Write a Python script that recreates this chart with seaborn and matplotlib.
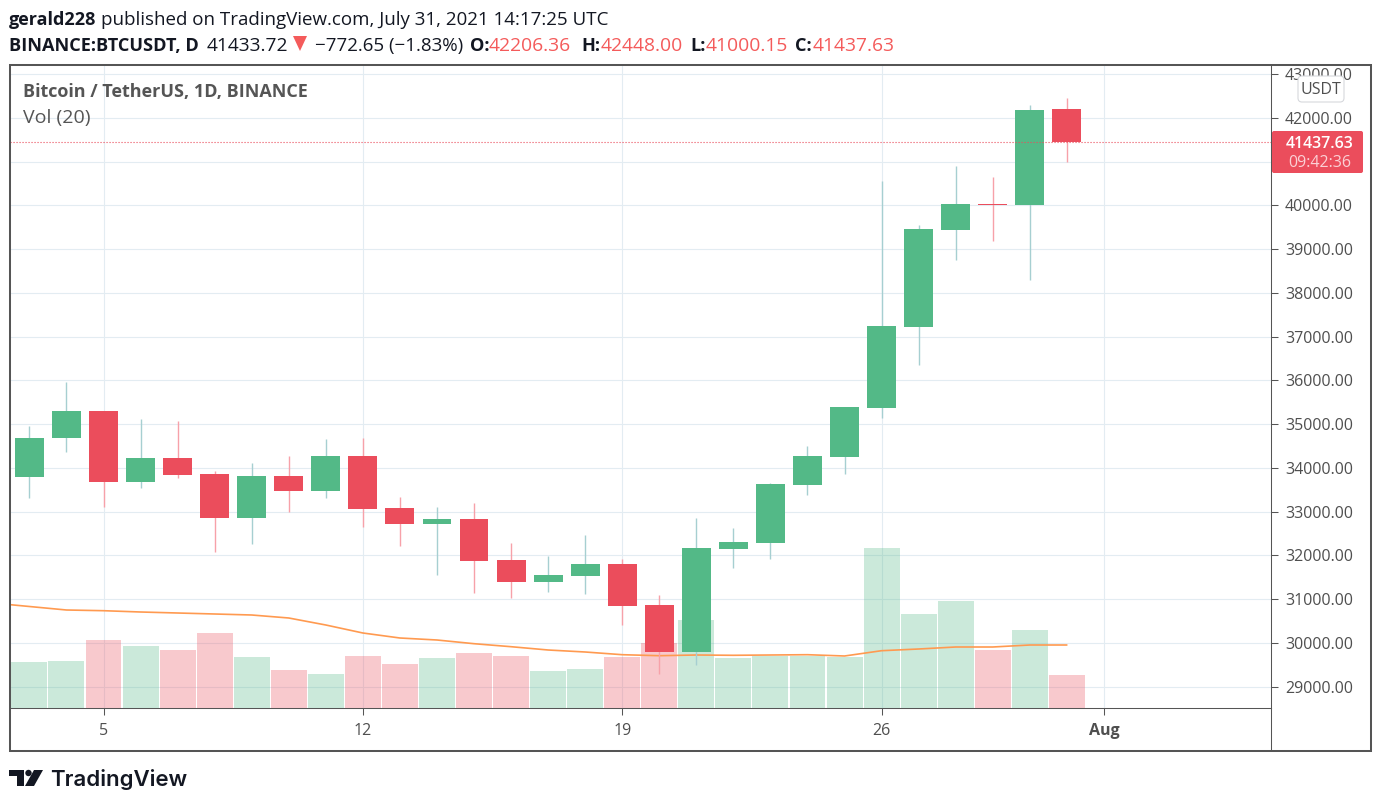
import pandas as pd
import matplotlib
matplotlib.use("Agg")
import matplotlib.pyplot as plt
import seaborn as sns
from matplotlib.lines import Line2D
from matplotlib.patches import FancyBboxPatch, Polygon, Circle, Rectangle
from matplotlib.transforms import IdentityTransform

# July 2021 daily candles
days = list(range(3, 32))
opens = [33780, 34690, 35300, 33684, 34232, 33867, 32864, 33821, 33479, 34277,
         33092, 32727, 32841, 31883, 31382, 31518, 31792, 30857, 29786, 32134,
         32271, 33616, 34254, 35372, 37218, 39430, 40025, 40000, 42206.36]
highs = [34950, 35960, 35300, 35121, 35075, 33935, 34118, 34277, 34665, 34688,
         33342, 33114, 33206, 32271, 31974, 32453, 31906, 31085, 32864, 32613,
         33660, 34500, 35400, 40547, 39544, 40890, 40638, 42303, 42448.00]
lows = [33304, 34352, 33114, 33532, 33776, 32066, 32248, 33000, 33304, 32658,
        32202, 31541, 31131, 31017, 31154, 31108, 30401, 29284, 29489, 31701,
        31906, 33388, 33867, 35144, 36352, 38745, 39180, 38290, 41000.15]
closes = [34690, 35300, 33684, 34232, 33844, 32864, 33821, 33479, 34277, 33069,
          32727, 32841, 31860, 31382, 31541, 31792, 30834, 29786, 32157, 32294,
          33639, 34277, 35394, 37241, 39453, 40023, 40000, 42189, 41437.63]
volumes = [43700, 44650, 64600, 58900, 55100, 71250, 48450, 36100, 32300, 49400,
           41800, 47500, 52250, 49400, 35150, 37050, 48450, 61750, 83600, 47500,
           49400, 49400, 48450, 152000, 89300, 101650, 55100, 74100, 31350]

# 20 day volume average, it starts left of the visible range
ma_days = list(range(2, 32))
ma_volumes = [99750, 96425, 93100, 92435, 91200, 90250, 89300, 88350, 85500, 78850,
              71250, 66500, 64600, 61085, 58235, 55100, 53200, 50635, 49685, 50350,
              50065, 50350, 50635, 49400, 54435, 56050, 57950, 57950, 59850, 59850]

price_ticks = list(range(29000, 43001, 1000))
date_ticks = [5, 12, 19, 26, 32]
date_labels = ["5", "12", "19", "26", "Aug"]

GREEN = "#53b987"
RED = "#eb4d5c"
GREEN_WICK = "#a6cfd1"
RED_WICK = "#f7a1a9"
GRID = "#e3ecf2"
DARK = "#131722"
GRAY = "#4f4f4f"
W, H = 1381, 806

sns.set_theme(style="white")
plt.rcParams["font.family"] = ["Open Sans", "DejaVu Sans"]

fig = plt.figure(figsize=(W / 100, H / 100), dpi=100, facecolor="white")
rect = [10 / W, 1 - 708 / H, 1261 / W, 643 / H]

ax = fig.add_axes(rect, zorder=1)
ax_vol = fig.add_axes(rect, zorder=2, sharex=ax)
ax_c = fig.add_axes(rect, zorder=3, sharex=ax, sharey=ax)

df = pd.DataFrame({"day": days, "open": opens, "high": highs, "low": lows,
                   "close": closes, "volume": volumes})
df["dir"] = ["up" if c >= o else "down" for o, c in zip(opens, closes)]
ma = pd.DataFrame({"day": ma_days, "ma": ma_volumes})

# volume pane
sns.barplot(data=df, x="day", y="volume", hue="dir", native_scale=True, dodge=False,
            palette={"up": GREEN, "down": RED}, alpha=0.3, width=0.97, saturation=1,
            linewidth=0, legend=False, ax=ax_vol)
sns.lineplot(data=ma, x="day", y="ma", color="#ff9a50", linewidth=1.2, ax=ax_vol)
ax_vol.set_ylim(0, 610850)
ax_vol.axis("off")

# candles
up = df[df["dir"] == "up"]
down = df[df["dir"] == "down"]
ax_c.vlines(up["day"], up["low"], up["high"], color=GREEN_WICK, linewidth=1.0, zorder=1)
ax_c.vlines(down["day"], down["low"], down["high"], color=RED_WICK, linewidth=1.0, zorder=1)
ax_c.bar(up["day"], up["close"] - up["open"], bottom=up["open"], width=0.78,
         color=GREEN, linewidth=0, zorder=2)
ax_c.bar(down["day"], down["open"] - down["close"], bottom=down["close"], width=0.78,
         color=RED, linewidth=0, zorder=2)
ax_c.axhline(closes[-1], color=RED, linewidth=0.8, linestyle=(0, (1, 1.7)), zorder=3)
ax_c.axis("off")

ax.set_xlim(2.476, 36.51)
ax.set_ylim(28510, 43207)
ax.yaxis.tick_right()
ax.set_yticks(price_ticks)
# 41000 sits behind the last price tag, so it gets no label
ax.set_yticklabels(["" if p == 41000 else f"{p}.00" for p in price_ticks])
ax.set_xticks(date_ticks)
ax.set_xticklabels(date_labels)
ax.get_xticklabels()[-1].set_fontweight("bold")
ax.grid(True, color=GRID, linewidth=0.8)
ax.set_axisbelow(True)
ax.tick_params(axis="y", right=True, length=5, width=0.75, color="#555555", pad=5,
               labelsize=11.5, labelcolor=GRAY)
ax.tick_params(axis="x", bottom=True, length=5, width=0.75, color="#555555", pad=6,
               labelsize=11.5, labelcolor=GRAY)
ax.set_xlabel("")
ax.set_ylabel("")
for side in ["left", "top"]:
    ax.spines[side].set_visible(False)
for side in ["right", "bottom"]:
    ax.spines[side].set_color("#555555")
    ax.spines[side].set_linewidth(0.75)


def label(x, y, s, **kw):
    # x, y in screenshot pixels
    kw.setdefault("va", "center")
    kw.setdefault("color", DARK)
    kw.setdefault("fontsize", 13.52)
    return fig.text(x, H - y, s, transform=IdentityTransform(), zorder=12, **kw)


def add_px(patch):
    patch.set_transform(IdentityTransform())
    patch.set_zorder(11)
    fig.add_artist(patch)


def poly_px(points):
    add_px(Polygon([(x, H - y) for x, y in points], closed=True, facecolor=DARK, edgecolor="none"))


# outer frame
fig.add_artist(Rectangle((10 / W, 1 - 751 / H), 1361 / W, 686 / H, transform=fig.transFigure,
                         fill=False, edgecolor="#555555", linewidth=1.45, zorder=10))
fig.add_artist(Line2D([1271 / W, 1271 / W], [1 - 751 / H, 1 - 708 / H], transform=fig.transFigure,
                      color="#555555", linewidth=0.75, zorder=10))

# header
label(9, 20, "gerald228", fontweight="bold", fontsize=13)
label(101, 20, "published on TradingView.com, July 31, 2021 14:17:25 UTC")
label(9, 46, "BINANCE:BTCUSDT, D", fontweight="bold", fontsize=13.1)
label(207, 46, "41433.72", fontsize=13.8)
add_px(Polygon([(293, H - 36), (307, H - 36), (300, H - 51)], closed=True,
               facecolor="#f45b5b", edgecolor="none"))
label(315, 46, "\u2212772.65 (\u22121.83%)")
header_ohlc = [(470, "O:", 489, "42206.36"), (581, "H:", 601, "42448.00"),
               (690, "L:", 706, "41000.15"), (795, "C:", 813, "41437.63")]
for x1, name, x2, val in header_ohlc:
    label(x1, 46, name, fontweight="bold", fontsize=13.1)
    label(x2, 46, val, color="#f45b5b", fontsize=13.9)

# chart legend
label(23, 92, "Bitcoin / TetherUS, 1D, BINANCE", fontweight="bold", color="#555555", fontsize=13)
label(23, 118, "Vol (20)", color="#555555", fontsize=14)

# currency button and last price tag
add_px(FancyBboxPatch((1298, H - 102), 46, 26, boxstyle="round,pad=0,rounding_size=4",
                      facecolor="white", edgecolor="#d6d8dc", linewidth=0.8))
label(1321, 90, "USDT", ha="center", color=GRAY, fontsize=11.5)
add_px(FancyBboxPatch((1272, H - 173), 91, 42, boxstyle="round,pad=0,rounding_size=2",
                      facecolor=RED, edgecolor="none"))
label(1320, 144, "41437.63", ha="center", color="white", fontsize=11.5, fontweight="semibold")
label(1320, 163, "09:42:36", ha="center", color="#fbd0d5", fontsize=11.5)

# logo
poly_px([(9, 770), (24, 770), (24, 786), (17, 786), (17, 776), (9, 776)])
add_px(Circle((28.5, H - 773), 3.2, facecolor=DARK, edgecolor="none"))
poly_px([(34, 770), (43, 770), (34, 786), (25, 786)])
label(50, 779, "TradingView", family="Inter", fontweight="semibold", fontsize=16)

fig.savefig("out.png", dpi=100, facecolor="white")
